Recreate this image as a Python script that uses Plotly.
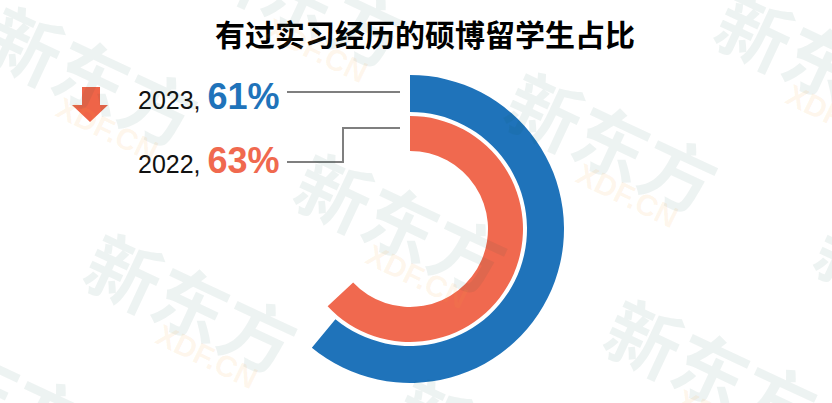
import plotly.graph_objects as go

# ---- data ----
title_text = "有过实习经历的硕博留学生占比"
years = ["2023", "2022"]
shares = [61, 63]
colors = ["#1F73BA", "#F0694F"]

W, H = 832, 403


def px(x):
    return x / W


def py(y):
    return 1 - y / H


fig = go.Figure()

# ring geometry (pixels)
cx, cy = 410, 229
rings = [(154, 117), (113, 78)]  # (outer radius, inner radius)

for (ro, ri), val, col in zip(rings, shares, colors):
    fig.add_trace(go.Pie(
        values=[val, 100 - val],
        marker=dict(colors=[col, "rgba(0,0,0,0)"], line=dict(width=0)),
        hole=ri / ro,
        sort=False,
        direction="clockwise",
        rotation=0,
        textinfo="none",
        hoverinfo="skip",
        showlegend=False,
        domain=dict(x=[px(cx - ro), px(cx + ro)], y=[py(cy + ro), py(cy - ro)]),
    ))

# labels
label_rows = [(96, 92), (160, 162)]  # (text centre y, leader start y)
for (ty, ly), yr, val, col in zip(label_rows, years, shares, colors):
    fig.add_annotation(
        x=px(282), y=py(ty), xref="paper", yref="paper",
        xanchor="right", yanchor="middle", showarrow=False,
        text=f"{yr}, <b><span style='font-size:36px;color:{col}'>{val}%</span></b>",
        font=dict(family="Liberation Sans, Arial", size=25, color="#111111"),
    )

line_style = dict(color="#7F7F7F", width=2)
fig.add_shape(type="line", xref="paper", yref="paper",
              x0=px(287), y0=py(92), x1=px(400), y1=py(92), line=line_style)
fig.add_shape(type="path", xref="paper", yref="paper",
              path=f"M {px(287)} {py(162)} L {px(343)} {py(162)} L {px(343)} {py(128)} L {px(400)} {py(128)}",
              line=line_style)

# down arrow
arrow = [(82, 87), (100, 87), (100, 105), (108, 105), (90, 122), (72, 105), (82, 105)]
path = "M " + " L ".join(f"{px(x)} {py(y)}" for x, y in arrow) + " Z"
fig.add_shape(type="path", xref="paper", yref="paper", path=path,
              fillcolor="#EF6448", line=dict(width=0))

# watermark tiling
ox, oy = 403, 220
v1 = (210, -80)
v2 = (310, 146)
for i in range(-4, 5):
    for j in range(-3, 4):
        wx = ox + i * v1[0] + j * v2[0]
        wy = oy + i * v1[1] + j * v2[1]
        if -110 < wx < W + 110 and -70 < wy < H + 60:
            fig.add_annotation(
                x=px(wx), y=py(wy), xref="paper", yref="paper",
                xanchor="center", yanchor="middle",
                showarrow=False, textangle=25,
                text="<b>新东方</b>",
                font=dict(family="Noto Sans CJK SC", size=74, color="rgba(0,80,70,0.07)"),
            )
            fig.add_annotation(
                x=px(wx + 14), y=py(wy + 56), xref="paper", yref="paper",
                xanchor="center", yanchor="middle",
                showarrow=False, textangle=26,
                text="<b>XDF.CN</b>",
                font=dict(family="Liberation Sans, Arial", size=30, color="rgba(250,160,60,0.10)"),
            )

fig.update_layout(
    width=W, height=H,
    margin=dict(l=0, r=0, t=0, b=0),
    paper_bgcolor="white", plot_bgcolor="white",
    title=dict(
        text=f"<b>{title_text}</b>",
        x=px(425), y=py(35), xanchor="center", yanchor="middle",
        font=dict(family="Noto Sans CJK SC", size=30, color="#000000"),
    ),
)

fig.write_html("out.html", config={"displayModeBar": False},
               post_script="document.body.style.margin='0';")
